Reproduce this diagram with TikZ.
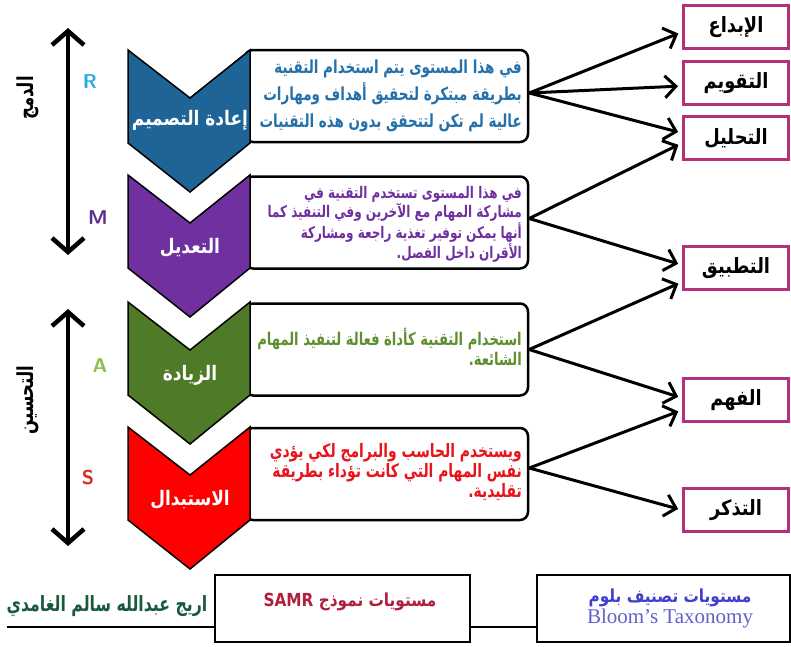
\documentclass[tikz,border=0pt]{standalone}
\usepackage{fontspec}
\newfontfamily\arabicfont[Script=Arabic,FakeStretch=0.85]{DejaVu Sans}
\newfontfamily\arabicnarrow[Script=Arabic,FakeStretch=0.75]{DejaVu Sans}
\newfontfamily\latinserif{Liberation Serif}
\TeXXeTstate=1
\usetikzlibrary{arrows.meta}

\definecolor{redesignblue}{HTML}{1F6496}
\definecolor{redesigntext}{HTML}{2370AA}
\definecolor{modpurple}{HTML}{7030A0}
\definecolor{auggreen}{HTML}{4F7A28}
\definecolor{augtext}{HTML}{5E8E2E}
\definecolor{subred}{HTML}{FF0000}
\definecolor{subtext}{HTML}{E8131B}
\definecolor{rcyan}{HTML}{29ABE2}
\definecolor{mpurple}{HTML}{5C2D91}
\definecolor{alime}{HTML}{8CC152}
\definecolor{sred}{HTML}{E02828}
\definecolor{bloompink}{HTML}{B4307A}
\definecolor{samrred}{HTML}{B0203C}
\definecolor{bloomblue}{HTML}{3F3FD0}
\definecolor{bloomlatin}{HTML}{6060C8}
\definecolor{namegreen}{HTML}{1A5A3C}

\tikzset{
  chev/.style={draw=black, line width=1.5pt, line join=miter},
  descbox/.style={draw, rounded corners=8pt, line width=2.5pt, minimum width=283pt, minimum height=92pt, inner sep=0pt},
  desctext/.style={anchor=east, align=right, inner sep=0pt},
  chevlabel/.style={text=white, font=\arabicfont\bfseries\fontsize{20}{22}\selectfont},
  bloombox/.style={draw=bloompink, line width=3pt, minimum width=105pt, minimum height=43pt, font=\arabicfont\bfseries\fontsize{21}{22}\selectfont},
  linkarrow/.style={line width=3pt, -{Straight Barb[length=11pt,width=22pt]}, shorten >=4pt},
  spanarrow/.style={line width=4.5pt, {Straight Barb[length=14pt,width=32pt]}-{Straight Barb[length=14pt,width=32pt]}},
  letter/.style={font=\sffamily\bfseries\fontsize{20}{20}\selectfont},
  sidelabel/.style={rotate=90, font=\arabicnarrow\bfseries\fontsize{22}{22}\selectfont},
  footbox/.style={draw, line width=2.5pt, minimum width=255pt, minimum height=67pt}
}
\def\chevron[#1](#2){\draw[chev,fill=#1] (128,#2) -- (190,#2+48) -- (250,#2) -- (250,#2+93) -- (190,#2+142) -- (128,#2+93) -- cycle;}

\begin{document}
\begin{tikzpicture}[x=1pt,y=-1pt]
	%%%%% START %%%%%
	\useasboundingbox (0,0) rectangle (791,646);
	
	% description boxes
	\node[descbox] (redesign) at (386.5,96) {};
	\node[descbox] (modify) at (386.5,222.5) {};
	\node[descbox] (augment) at (386.5,349.5) {};
	\node[descbox] (substitute) at (386.5,474) {};
	
	\node[desctext, text=redesigntext, font=\arabicnarrow\bfseries\fontsize{18}{27}\selectfont] (redesigntxt) at (522,96) {\beginR في هذا المستوى يتم استخدام التقنية\endR\\\beginR بطريقة مبتكرة لتحقيق أهداف ومهارات\endR\\\beginR عالية لم تكن لتتحقق بدون هذه التقنيات\endR};
	\node[desctext, text=modpurple, font=\arabicnarrow\bfseries\fontsize{16}{16}\selectfont] (modifytxt) at (522,224) {\beginR في هذا المستوى تستخدم التقنية في\endR\\\beginR مشاركة المهام مع الآخرين وفي التنفيذ كما\endR\\\beginR أنها يمكن توفير تغذية راجعة ومشاركة\endR\\\beginR الأقران داخل الفصل.\endR};
	\node[desctext, text=augtext, font=\arabicnarrow\bfseries\fontsize{17.5}{20}\selectfont] (augmenttxt) at (522,347) {\beginR استخدام التقنية كأداة فعالة لتنفيذ المهام\endR\\\beginR الشائعة.\endR};
	\node[desctext, text=subtext, font=\arabicnarrow\bfseries\fontsize{18.5}{20}\selectfont] (substitutetxt) at (522,472) {\beginR ويستخدم الحاسب والبرامج لكي يؤدي\endR\\\beginR نفس المهام التي كانت تؤداء بطريقة\endR\\\beginR تقليدية.\endR};
	
	% chevrons
	\chevron[redesignblue](50)
	\chevron[modpurple](175)
	\chevron[auggreen](302)
	\chevron[subred](427)
	
	\node[chevlabel] (redesignlbl) at (190,120) {\beginR إعادة التصميم\endR};
	\node[chevlabel] (modifylbl) at (190,248) {\beginR التعديل\endR};
	\node[chevlabel] (augmentlbl) at (190,375) {\beginR الزيادة\endR};
	\node[chevlabel] (substitutelbl) at (190,500) {\beginR الاستبدال\endR};
	
	% side arrows
	\draw[spanarrow] (68,28) -- (68,255);
	\draw[spanarrow] (68,309) -- (68,546);
	\node[letter, text=rcyan] (rlet) at (90,82) {R};
	\node[letter, text=mpurple] (mlet) at (98,218) {M};
	\node[letter, text=alime] (alet) at (100,366) {A};
	\node[letter, text=sred] (slet) at (88,478) {S};
	\node[sidelabel] (integ) at (28,98) {\beginR الدمج\endR};
	\node[sidelabel] (enhance) at (28,400) {\beginR التحسين\endR};
	
	% bloom levels
	\node[bloombox] (create) at (736,27) {\beginR الإبداع\endR};
	\node[bloombox] (evaluate) at (736,83) {\beginR التقويم\endR};
	\node[bloombox] (analyse) at (736,138) {\beginR التحليل\endR};
	\node[bloombox] (apply) at (736,268) {\beginR التطبيق\endR};
	\node[bloombox] (understand) at (736,400) {\beginR الفهم\endR};
	\node[bloombox] (remember) at (736,510) {\beginR التذكر\endR};
	
	\draw[linkarrow] ([yshift=3pt]redesign.east) -- ([yshift=-5pt]create.west);
	\draw[linkarrow] ([yshift=3pt]redesign.east) -- ([yshift=-3pt]evaluate.west);
	\draw[linkarrow] ([yshift=3pt]redesign.east) -- ([yshift=5pt]analyse.west);
	\draw[linkarrow] ([yshift=4pt]modify.east) -- ([yshift=-5pt]analyse.west);
	\draw[linkarrow] ([yshift=4pt]modify.east) -- ([yshift=3pt]apply.west);
	\draw[linkarrow] (augment.east) -- ([yshift=-14pt]apply.west);
	\draw[linkarrow] (augment.east) -- ([yshift=2pt]understand.west);
	\draw[linkarrow] ([yshift=6pt]substitute.east) -- ([yshift=-10pt]understand.west);
	\draw[linkarrow] ([yshift=6pt]substitute.east) -- (remember.west);
	
	% footer
	\node[footbox] (samr) at (342.5,608.5) {};
	\node[footbox, minimum width=253pt] (bloom) at (663.5,608.5) {};
	\node[text=samrred, font=\arabicfont\bfseries\fontsize{18}{18}\selectfont] (samrtxt) at (350,602) {\beginR مستويات نموذج \beginL SAMR\endL\endR};
	\node[align=center, inner sep=0pt] (bloomtxt) at (670,608) {{\arabicfont\bfseries\fontsize{18}{18}\selectfont\color{bloomblue}\beginR مستويات تصنيف بلوم\endR}\\[1pt]{\latinserif\fontsize{21}{21}\selectfont\color{bloomlatin}Bloom’s Taxonomy}};
	\node[text=namegreen, font=\arabicnarrow\bfseries\fontsize{21}{21}\selectfont] (author) at (107,606) {\beginR اريج عبدالله سالم الغامدي\endR};
	\coordinate (ruleend) at (7,627);
	\draw[line width=2pt] (ruleend) -- ([yshift=-18.5pt]samr.west);
	\draw[line width=2pt] ([yshift=-18.5pt]samr.east) -- ([yshift=-18.5pt]bloom.west);
	
	%%%%% END %%%%%
\end{tikzpicture}
\end{document}
